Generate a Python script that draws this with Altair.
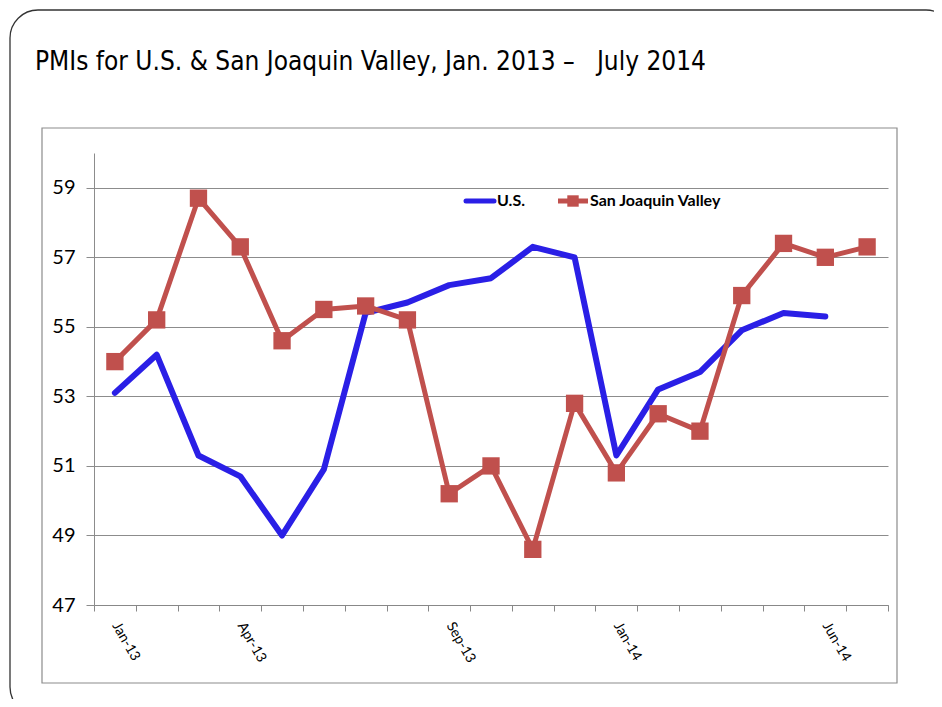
import altair as alt
import pandas as pd

months = ["Jan-13", "Feb-13", "Mar-13", "Apr-13", "May-13", "Jun-13", "Jul-13",
          "Aug-13", "Sep-13", "Oct-13", "Nov-13", "Dec-13", "Jan-14", "Feb-14",
          "Mar-14", "Apr-14", "May-14", "Jun-14", "Jul-14"]
us_values = [53.1, 54.2, 51.3, 50.7, 49.0, 50.9, 55.4, 55.7, 56.2, 56.4, 57.3,
             57.0, 51.3, 53.2, 53.7, 54.9, 55.4, 55.3]
sjv_values = [54.0, 55.2, 58.7, 57.3, 54.6, 55.5, 55.6, 55.2, 50.2, 51.0, 48.6,
              52.8, 50.8, 52.5, 52.0, 55.9, 57.4, 57.0, 57.3]
shown_labels = ["Jan-13", "Apr-13", "Sep-13", "Jan-14", "Jun-14"]
y_ticks = [47, 49, 51, 53, 55, 57, 59]
title_text = "PMIs for U.S. & San Joaquin Valley, Jan. 2013 \u2013 \u00a0 July 2014"
series_names = ["U.S.", "San Joaquin Valley"]

BLUE = "#2A1FE6"
RED = "#C0504D"

us_df = pd.DataFrame({"month": months[:len(us_values)], "value": us_values})
sjv_df = pd.DataFrame({"month": months, "value": sjv_values})

label_list = "[" + ",".join("'%s'" % s for s in shown_labels) + "]"

x_enc = alt.X("month:O", sort=months,
              scale=alt.Scale(type="band", domain=months, paddingInner=0, paddingOuter=0),
              bandPosition=0.5,
              axis=alt.Axis(title=None, labelAngle=60, labelAlign="left", labelBaseline="middle",
                            labelExpr="indexof(%s, datum.value) >= 0 ? datum.value : ''" % label_list,
                            tickBand="extent", tickSize=6, labelPadding=12, grid=False,
                            domainColor="#888888", tickColor="#888888", labelFont="Lato",
                            labelFontSize=14, labelColor="#000000", labelOverlap=False))
y_enc = alt.Y("value:Q", scale=alt.Scale(domain=[47, 60], nice=False, zero=False),
              axis=alt.Axis(title=None, values=y_ticks, grid=True, gridColor="#8c8c8c",
                            domainColor="#8c8c8c", tickColor="#8c8c8c", tickSize=8,
                            labelPadding=11, labelFont="Lato", labelFontSize=20,
                            labelColor="#000000"))

one = pd.DataFrame({"a": [0]})

outer = alt.Chart(one).mark_rect(fill="white", fillOpacity=0, stroke="#333333", strokeWidth=1.3,
                                 cornerRadius=28).encode(
    x=alt.value(-84), x2=alt.value(860), y=alt.value(-143), y2=alt.value(562))
inner = alt.Chart(one).mark_rect(fillOpacity=0, fill="white", stroke="#8c8c8c", strokeWidth=1.2).encode(
    x=alt.value(-52), x2=alt.value(803), y=alt.value(-25), y2=alt.value(530))
title = alt.Chart(one).mark_text(text=title_text, font="DejaVu Sans Condensed, Roboto, sans-serif",
                                 fontSize=26, align="left", baseline="alphabetic",
                                 color="#000000").encode(
    x=alt.value(-59), y=alt.value(-83))

us_line = alt.Chart(us_df).mark_line(color=BLUE, strokeWidth=6, strokeCap="round",
                                     strokeJoin="round").encode(x=x_enc, y=y_enc)
sjv_line = alt.Chart(sjv_df).mark_line(color=RED, strokeWidth=5, strokeJoin="round").encode(
    x=x_enc, y=y_enc)
sjv_pts = alt.Chart(sjv_df).mark_square(color=RED, size=300, opacity=1).encode(x=x_enc, y=y_enc)

# legend
leg_us_line = alt.Chart(one).mark_rule(color=BLUE, strokeWidth=5, strokeCap="round").encode(
    x=alt.value(372), x2=alt.value(400), y=alt.value(48))
leg_us_text = alt.Chart(one).mark_text(text=series_names[0], font="Lato", fontWeight="bold",
                                       fontSize=16, align="left", baseline="middle").encode(
    x=alt.value(403), y=alt.value(48))
leg_sjv_line = alt.Chart(one).mark_rule(color=RED, strokeWidth=5).encode(
    x=alt.value(464), x2=alt.value(494), y=alt.value(48))
leg_sjv_pt = alt.Chart(one).mark_square(color=RED, size=130, opacity=1).encode(
    x=alt.value(479), y=alt.value(48))
leg_sjv_text = alt.Chart(one).mark_text(text=series_names[1], font="Lato", fontWeight="bold",
                                        fontSize=16, align="left", baseline="middle").encode(
    x=alt.value(496), y=alt.value(48))

chart = alt.layer(outer, inner, title, us_line, sjv_line, sjv_pts,
                  leg_us_line, leg_us_text, leg_sjv_line, leg_sjv_pt, leg_sjv_text).properties(
    width=794, height=452,
    autosize=alt.AutoSizeParams(type="none"),
    padding={"left": 86, "top": 145, "right": 46, "bottom": 94},
    background="white",
).configure_view(stroke=None)

chart.save("out.html", embed_options={"renderer": "svg", "actions": False})
